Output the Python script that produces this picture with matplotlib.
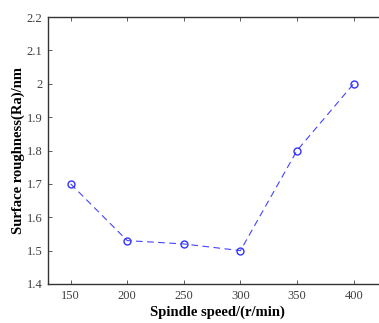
import matplotlib
matplotlib.use("Agg")
import matplotlib.pyplot as plt

speed = [150, 200, 250, 300, 350, 400]
roughness = [1.70, 1.53, 1.52, 1.50, 1.80, 2.00]
xticks = [150, 200, 250, 300, 350, 400]
yticks = [1.4, 1.5, 1.6, 1.7, 1.8, 1.9, 2.0, 2.1, 2.2]
ytick_labels = ["1.4", "1.5", "1.6", "1.7", "1.8", "1.9", "2", "2.1", "2.2"]

plt.rcParams['font.family'] = ['Liberation Serif', 'DejaVu Serif']

W, H = 379, 323
fig = plt.figure(figsize=(W/100, H/100), dpi=100)
ax = fig.add_axes([48/W, 1-284/H, (387.6-48)/W, (284-17)/H])
ax.plot(speed, roughness, linestyle=(0, (6, 4)), color='#4444ff', lw=0.8,
        marker='o', markersize=5, markerfacecolor='none', markeredgecolor='#3333ff', markeredgewidth=1.0)
ax.set_xlim(130, 430)
ax.set_ylim(1.4, 2.2)
ax.set_xticks(xticks)
ax.set_yticks(yticks)
ax.set_yticklabels(ytick_labels)
ax.tick_params(direction='in', length=3, width=0.6, labelsize=9, colors='#404040',
               top=True, right=True, pad=4)
for s in ax.spines.values():
    s.set_linewidth(1.0)
    s.set_color('#333333')
ax.set_xlabel('Spindle speed/(r/min)', fontsize=10.5, fontweight='bold', labelpad=3)
ax.set_ylabel('Surface roughness(Ra)/nm', fontsize=10.5, fontweight='bold', labelpad=1)
fig.savefig('out.png', dpi=100)
